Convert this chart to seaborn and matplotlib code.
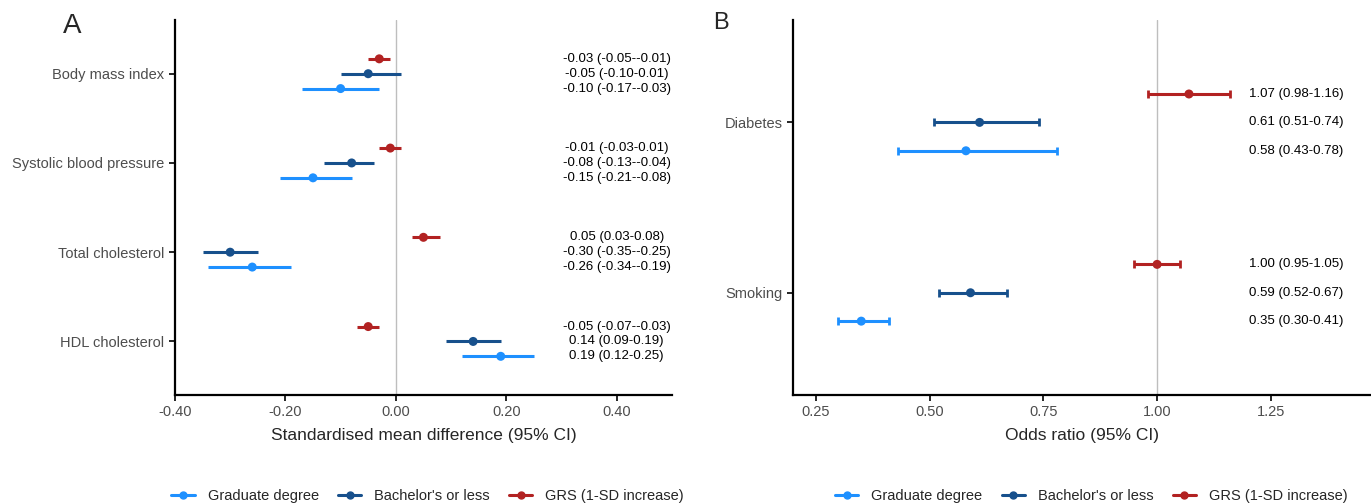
import numpy as np
import pandas as pd
import matplotlib
matplotlib.use("Agg")
import matplotlib.pyplot as plt
from matplotlib.lines import Line2D
import seaborn as sns

# Panel A: continuous outcomes (standardised mean difference)
outcomes_a = ["Body mass index", "Systolic blood pressure", "Total cholesterol", "HDL cholesterol"]
grs_a = [-0.03, -0.01, 0.05, -0.05]
grs_a_lo = [-0.05, -0.03, 0.03, -0.07]
grs_a_hi = [-0.01, 0.01, 0.08, -0.03]
bach_a = [-0.05, -0.08, -0.30, 0.14]
bach_a_lo = [-0.10, -0.13, -0.35, 0.09]
bach_a_hi = [0.01, -0.04, -0.25, 0.19]
grad_a = [-0.10, -0.15, -0.26, 0.19]
grad_a_lo = [-0.17, -0.21, -0.34, 0.12]
grad_a_hi = [-0.03, -0.08, -0.19, 0.25]

# Panel B: binary outcomes (odds ratio)
outcomes_b = ["Diabetes", "Smoking"]
grs_b = [1.07, 1.00]
grs_b_lo = [0.98, 0.95]
grs_b_hi = [1.16, 1.05]
bach_b = [0.61, 0.59]
bach_b_lo = [0.51, 0.52]
bach_b_hi = [0.74, 0.67]
grad_b = [0.58, 0.35]
grad_b_lo = [0.43, 0.30]
grad_b_hi = [0.78, 0.41]

groups = ["Graduate degree", "Bachelor's or less", "GRS (1-SD increase)"]
palette = {"Graduate degree": "#1E90FF", "Bachelor's or less": "#17508C",
           "GRS (1-SD increase)": "#B22222"}
# vertical dodge: GRS top, bachelor middle, graduate bottom
offsets = {"GRS (1-SD increase)": -1 / 6, "Bachelor's or less": 0.0, "Graduate degree": 1 / 6}


def build(outcomes, series):
    rows = []
    for grp, (est, lo, hi) in series.items():
        for i, o in enumerate(outcomes):
            rows.append(dict(outcome=o, group=grp, est=est[i], lo=lo[i], hi=hi[i],
                             y=i + offsets[grp]))
    return pd.DataFrame(rows)


df_a = build(outcomes_a, {"GRS (1-SD increase)": (grs_a, grs_a_lo, grs_a_hi),
                          "Bachelor's or less": (bach_a, bach_a_lo, bach_a_hi),
                          "Graduate degree": (grad_a, grad_a_lo, grad_a_hi)})
df_b = build(outcomes_b, {"GRS (1-SD increase)": (grs_b, grs_b_lo, grs_b_hi),
                          "Bachelor's or less": (bach_b, bach_b_lo, bach_b_hi),
                          "Graduate degree": (grad_b, grad_b_lo, grad_b_hi)})

sns.set_style("white")
plt.rcParams["font.family"] = ["Liberation Sans", "DejaVu Sans"]

fig = plt.figure(figsize=(13.71, 5.04), dpi=100)
ax_a = fig.add_axes([0.1276, 0.2163, 0.3625, 0.7437])
ax_b = fig.add_axes([0.5784, 0.2163, 0.4216, 0.7437])


def forest(ax, df, outcomes, null, xlim, xticks, fmt, text_x, caps, xlabel):
    ax.axvline(null, color="#BEBEBE", lw=1, zorder=0)
    for grp in groups:
        sub = df[df.group == grp]
        c = palette[grp]
        ax.hlines(sub.y, sub.lo, sub.hi, color=c, lw=2.2, zorder=2)
        if caps:
            ax.errorbar(sub.est, sub.y, xerr=[sub.est - sub.lo, sub.hi - sub.est],
                        fmt="none", ecolor=c, elinewidth=0, capsize=3, capthick=2, zorder=2)
    sns.scatterplot(data=df, x="est", y="y", hue="group", palette=palette,
                    s=42, edgecolor="none", legend=False, ax=ax, zorder=3)
    for _, r in df.iterrows():
        ax.text(text_x, r.y, f"{r.est:.2f} ({r.lo:.2f}-{r.hi:.2f})", ha="center",
                va="center", fontsize=9.5, color="black")
    ax.set_xlim(*xlim)
    ax.set_ylim(len(outcomes) - 0.4, -0.6)
    ax.set_yticks(range(len(outcomes)))
    ax.set_yticklabels(outcomes)
    ax.set_xticks(xticks)
    ax.set_xticklabels([fmt.format(t) for t in xticks])
    ax.tick_params(axis="both", labelsize=10.5, labelcolor="#4D4D4D", length=4,
                   width=1.2, color="black", left=True, bottom=True)
    ax.set_xlabel(xlabel, fontsize=12.5, labelpad=6)
    ax.set_ylabel("")
    sns.despine(ax=ax)
    for s in ("left", "bottom"):
        ax.spines[s].set_linewidth(1.6)
        ax.spines[s].set_color("black")


forest(ax_a, df_a, outcomes_a, 0.0, (-0.4, 0.5), [-0.4, -0.2, 0.0, 0.2, 0.4], "{:.2f}",
       0.40, False, "Standardised mean difference (95% CI)")
forest(ax_b, df_b, outcomes_b, 1.0, (0.2, 1.47), [0.25, 0.5, 0.75, 1.0, 1.25], "{:.2f}",
       1.306, True, "Odds ratio (95% CI)")

fig.text(0.046, 0.948, "A", fontsize=20, va="center")
fig.text(0.520, 0.955, "B", fontsize=17, va="center")

handles = [Line2D([0], [0], color=palette[g], lw=2.2, marker="o", markersize=5) for g in groups]
for cx in (0.312, 0.796):
    fig.legend(handles, groups, loc="center", bbox_to_anchor=(cx, 0.015), ncol=3, frameon=False,
               fontsize=10.5, handlelength=1.6, columnspacing=1.3, handletextpad=0.9)

fig.savefig("out.png", dpi=100)
